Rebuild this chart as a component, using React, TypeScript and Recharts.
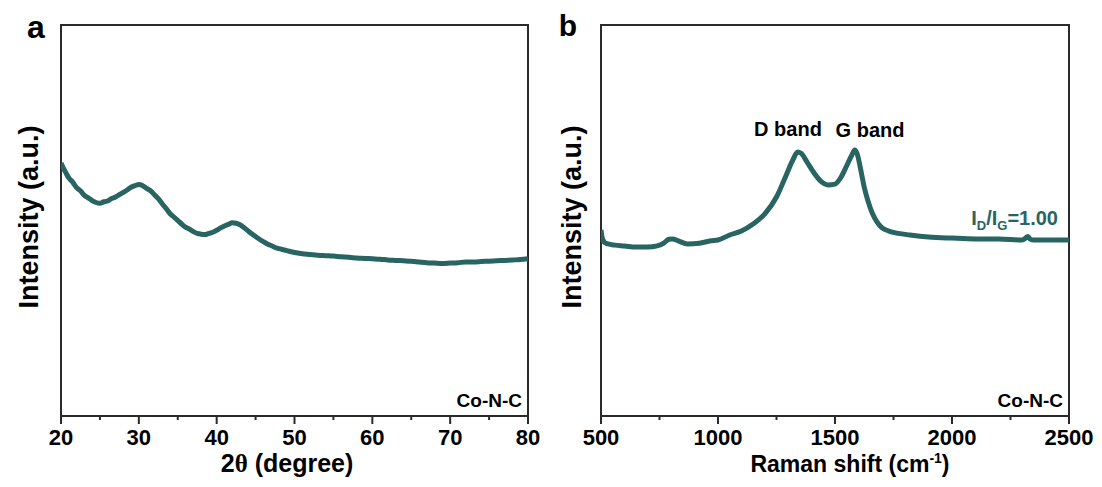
import React from "react";
import { LineChart, Line, XAxis, YAxis, ReferenceArea } from "recharts";

// XRD pattern (2θ in degrees, intensity in arbitrary units)
const xrdTheta = [
  20, 20.3, 20.6, 21, 21.5, 22, 22.5, 23, 23.5, 24, 24.5, 25, 25.5, 26, 26.5,
  27, 27.5, 28, 28.5, 29, 29.5, 30, 30.5, 31, 31.5, 32, 32.5, 33, 33.5, 34,
  34.5, 35, 35.5, 36, 36.5, 37, 37.5, 38, 38.5, 39, 39.5, 40, 40.5, 41, 41.5,
  42, 42.5, 43, 43.5, 44, 44.5, 45, 45.5, 46, 46.5, 47, 47.5, 48, 49, 50, 51,
  52, 53, 54, 55, 56, 57, 58, 59, 60, 61, 62, 63, 64, 65, 66, 67, 68, 69, 70,
  71, 72, 73, 74, 75, 76, 77, 78, 79, 80,
];
const xrdIntensity = [
  64.7, 63.4, 62.3, 60.9, 59.8, 58.4, 57.6, 56.4, 55.8, 55.1, 54.6, 54.4, 54.8,
  55.0, 55.6, 56.0, 56.6, 57.2, 57.8, 58.5, 58.9, 59.2, 58.9, 58.2, 57.6, 56.6,
  55.6, 54.3, 53.1, 51.8, 50.9, 50.0, 49.1, 48.3, 47.8, 47.2, 46.7, 46.5, 46.4,
  46.7, 47.0, 47.5, 48.1, 48.6, 49.0, 49.4, 49.3, 48.9, 48.2, 47.4, 46.6, 45.9,
  45.2, 44.6, 44.0, 43.6, 43.1, 42.8, 42.3, 41.8, 41.5, 41.3, 41.1, 41.0, 40.9,
  40.7, 40.6, 40.4, 40.3, 40.2, 40.1, 39.9, 39.8, 39.7, 39.6, 39.4, 39.2, 39.1,
  39.0, 39.1, 39.2, 39.4, 39.4, 39.5, 39.6, 39.7, 39.8, 39.9, 40.0, 40.2,
];
const xrdTicks = [20, 25, 30, 35, 40, 45, 50, 55, 60, 65, 70, 75, 80];

// Raman spectrum (shift in cm-1)
const ramanShift = [
  500, 505, 515, 530, 560, 600, 650, 700, 740, 770, 790, 805, 830, 870, 920,
  970, 1000, 1050, 1100, 1150, 1200, 1250, 1290, 1320, 1340, 1355, 1380, 1410,
  1440, 1470, 1500, 1525, 1550, 1570, 1585, 1595, 1610, 1625, 1640, 1660, 1680,
  1700, 1730, 1770, 1820, 1900, 2000, 2100, 2200, 2300, 2325, 2335, 2350, 2400,
  2500,
];
const ramanIntensity = [
  47.6, 45.6, 44.4, 44.0, 43.7, 43.5, 43.2, 43.2, 43.5, 44.3, 45.2, 45.3, 44.8,
  44.0, 44.2, 44.8, 45.0, 46.3, 47.3, 49.1, 51.7, 56.0, 61.4, 65.5, 67.5, 67.2,
  65.0, 62.2, 60.0, 59.1, 59.3, 61.0, 64.0, 66.5, 68.0, 67.0, 63.0, 58.5, 55.2,
  51.8, 49.6, 48.2, 47.3, 46.7, 46.3, 45.8, 45.5, 45.3, 45.3, 45.0, 45.9, 45.2,
  45.0, 45.0, 45.0,
];
const ramanTicks = [500, 750, 1000, 1250, 1500, 1750, 2000, 2250, 2500];

const xrdData = xrdTheta.map((x, i) => ({ x, y: xrdIntensity[i] }));
const ramanData = ramanShift.map((x, i) => ({ x, y: ramanIntensity[i] }));

const LINE = "#286462";
const AXIS = "#2a2a2a";
const FONT = '"Liberation Sans", Arial, sans-serif';

const AxisTick = (props: any) => {
  const { x, y, payload, start, step } = props;
  const major = (payload.value - start) % step === 0;
  return (
    <g>
      <line x1={x} x2={x} y1={y} y2={y + (major ? 8 : 4)} stroke={AXIS} strokeWidth={2} />
      {major && (
        <text x={x} y={y + 29} textAnchor="middle" fontFamily={FONT} fontWeight="bold" fontSize={22} fill="#000">
          {payload.value}
        </text>
      )}
    </g>
  );
};

interface PanelProps {
  left: number;
  width: number;
  marginRight: number;
  data: { x: number; y: number }[];
  domain: [number, number];
  ticks: number[];
  step: number;
}

const Panel = ({ left, width, marginRight, data, domain, ticks, step }: PanelProps) => (
  <div style={{ position: "absolute", left, top: 0 }}>
    <LineChart
      width={width}
      height={487}
      data={data}
      margin={{ top: 25, right: marginRight, bottom: 0, left: 61 }}
    >
      <XAxis
        dataKey="x"
        type="number"
        domain={domain}
        ticks={ticks}
        interval={0}
        allowDataOverflow
        height={71}
        tickSize={0}
        tickMargin={0}
        tickLine={false}
        axisLine={{ stroke: AXIS, strokeWidth: 2 }}
        tick={(p: any) => <AxisTick {...p} start={domain[0]} step={step} />}
      />
      <YAxis
        type="number"
        domain={[0, 100]}
        width={0}
        tick={false}
        tickLine={false}
        axisLine={{ stroke: AXIS, strokeWidth: 2 }}
      />
      <ReferenceArea
        x1={domain[0]}
        x2={domain[1]}
        y1={0}
        y2={100}
        fill="none"
        fillOpacity={0}
        stroke={AXIS}
        strokeWidth={2}
        ifOverflow="visible"
      />
      <Line
        dataKey="y"
        type="monotone"
        stroke={LINE}
        strokeWidth={5}
        strokeLinejoin="round"
        dot={false}
        isAnimationActive={false}
      />
    </LineChart>
  </div>
);

const boldText = { fontFamily: FONT, fontWeight: "bold" as const };

export default function App() {
  return (
    <div style={{ position: "absolute", left: 0, top: 0, width: 1102, height: 487, background: "#fff" }}>
      <Panel left={0} width={545} marginRight={17} data={xrdData} domain={[20, 80]} ticks={xrdTicks} step={10} />
      <Panel left={540} width={562} marginRight={33} data={ramanData} domain={[500, 2500]} ticks={ramanTicks} step={500} />
      <svg width={1102} height={487} style={{ position: "absolute", left: 0, top: 0, pointerEvents: "none" }}>
        <g {...boldText} fill="#000">
          <text x={36} y={38} fontSize={32} textAnchor="middle">a</text>
          <text x={568} y={36} fontSize={30} textAnchor="middle">b</text>

          <text transform="translate(38,217) rotate(-90)" fontSize={27} textAnchor="middle">Intensity (a.u.)</text>
          <text transform="translate(581,217) rotate(-90)" fontSize={27} textAnchor="middle">Intensity (a.u.)</text>

          <text x={287} y={472} fontSize={25} textAnchor="middle">
            2<tspan fontFamily='"Liberation Serif", serif'>θ</tspan> (degree)
          </text>
          <text x={850} y={472} fontSize={23} textAnchor="middle">
            Raman shift (cm<tspan dy={-9} fontSize={14}>-1</tspan>
            <tspan dy={9}>)</tspan>
          </text>

          <text x={522} y={407} fontSize={19} textAnchor="end">Co-N-C</text>
          <text x={1063} y={407} fontSize={19} textAnchor="end">Co-N-C</text>

          <text x={788} y={136} fontSize={20} textAnchor="middle">D band</text>
          <text x={870} y={137} fontSize={20} textAnchor="middle">G band</text>
        </g>
        <text x={1058} y={225} fontSize={20} textAnchor="end" fill={LINE} {...boldText}>
          I<tspan dy={5} fontSize={13}>D</tspan>
          <tspan dy={-5}>/I</tspan>
          <tspan dy={5} fontSize={13}>G</tspan>
          <tspan dy={-5}>=1.00</tspan>
        </text>
      </svg>
    </div>
  );
}
